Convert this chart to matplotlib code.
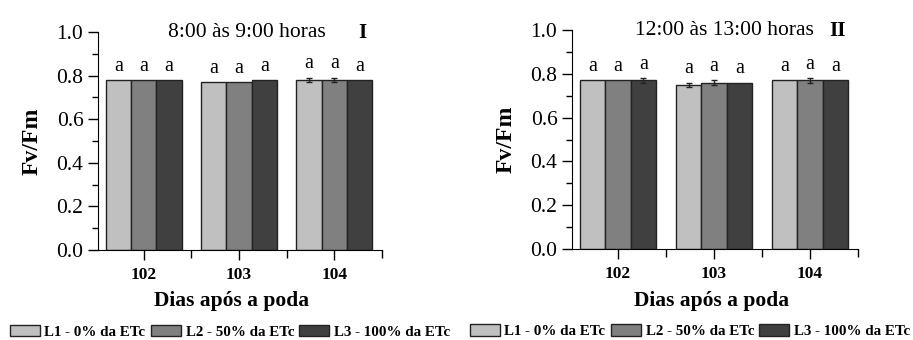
import matplotlib
matplotlib.use("Agg")
import matplotlib.pyplot as plt
import numpy as np
from matplotlib.ticker import MultipleLocator, FormatStrFormatter

plt.rcParams['font.family'] = ['Liberation Serif', 'DejaVu Serif']

days = [102, 103, 104]
series = ['L1 - 0% da ETc', 'L2 - 50% da ETc', 'L3 - 100% da ETc']
colors = ['#c0c0c0', '#808080', '#404040']

# panel I: 8:00 - 9:00
fv_fm_morning = [[0.78, 0.77, 0.78],
                 [0.78, 0.77, 0.78],
                 [0.78, 0.78, 0.78]]
err_morning = [[0.0, 0.0, 0.01],
               [0.0, 0.0, 0.01],
               [0.0, 0.0, 0.0]]

# panel II: 12:00 - 13:00
fv_fm_noon = [[0.77, 0.75, 0.77],
              [0.77, 0.76, 0.77],
              [0.77, 0.76, 0.77]]
err_noon = [[0.0, 0.01, 0.0],
            [0.0, 0.01, 0.01],
            [0.01, 0.0, 0.0]]

letters = ['a', 'a', 'a']


def draw_panel(ax, values, errs, title, roman, title_x, xlab_x, leg_x):
    width = 0.265
    x = np.array(days, dtype=float)
    for i in range(3):
        pos = x + (i - 1) * width
        ax.bar(pos, values[i], width, color=colors[i], edgecolor='#222222',
               linewidth=1.0, label=series[i], zorder=2)
        for j in range(3):
            if errs[i][j] > 0:
                ax.errorbar(pos[j], values[i][j], yerr=errs[i][j], fmt='none',
                            ecolor='#222222', elinewidth=1, capsize=2.5, zorder=3)
            ax.text(pos[j], values[i][j] + errs[i][j] + 0.02, letters[i],
                    ha='center', va='bottom', fontsize=14.5)
    ax.set_xlim(101.52, 104.5)
    ax.set_ylim(0, 1.0)
    ax.set_xticks(days)
    ax.set_xticks([102.5, 103.5, 104.5], minor=True)
    ax.set_xticklabels([str(d) for d in days], fontweight='bold', fontsize=12.5)
    ax.yaxis.set_major_locator(MultipleLocator(0.2))
    ax.yaxis.set_minor_locator(MultipleLocator(0.1))
    ax.yaxis.set_major_formatter(FormatStrFormatter('%.1f'))
    ax.tick_params(axis='y', labelsize=15.5)
    ax.tick_params(axis='both', which='major', length=7, width=1, direction='out')
    ax.tick_params(axis='x', which='major', pad=5)
    ax.tick_params(axis='x', which='minor', length=6, width=1, direction='out')
    ax.tick_params(axis='y', which='minor', length=4, width=1, direction='out')
    ax.spines['top'].set_visible(False)
    ax.spines['right'].set_visible(False)
    ax.set_ylabel('Fv/Fm', fontweight='bold', fontsize=17)
    ax.yaxis.set_label_coords(-0.195, 0.5)
    ax.set_xlabel('Dias após a poda', fontweight='bold', fontsize=15.5)
    ax.xaxis.set_label_coords(xlab_x, -0.19)
    ax.text(title_x, 1.0, title, transform=ax.transAxes, ha='center',
            va='center', fontsize=15.5)
    ax.text(0.93, 0.995, roman, transform=ax.transAxes, ha='center', va='center',
            fontsize=15, fontweight='bold')
    ax.legend(loc='center', bbox_to_anchor=(leg_x, -0.376), ncol=3,
              frameon=False, prop={'weight': 'bold', 'size': 10.8},
              handlelength=2.0, handleheight=0.8, columnspacing=0.35,
              handletextpad=0.33, borderaxespad=0, borderpad=0)


fig = plt.figure(figsize=(9.13, 3.4), dpi=100)
ax1 = fig.add_axes([0.1073, 0.2647, 0.311, 0.641])
ax2 = fig.add_axes([0.6265, 0.2676, 0.313, 0.644])

draw_panel(ax1, fv_fm_morning, err_morning, '8:00 às 9:00 horas', 'I',
           0.523, 0.472, 0.465)
draw_panel(ax2, fv_fm_noon, err_noon, '12:00 às 13:00 horas', 'II',
           0.535, 0.49, 0.413)

fig.savefig('out.png', dpi=100)
